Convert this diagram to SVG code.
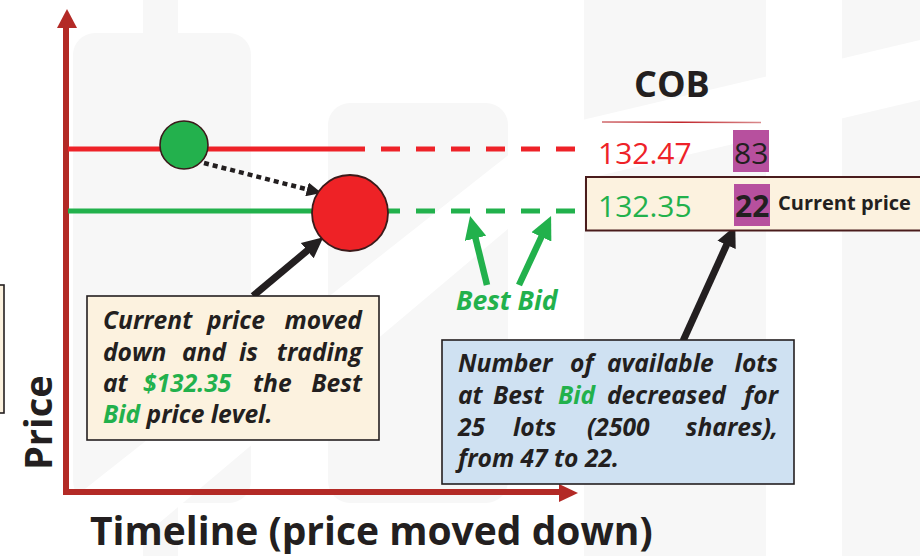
<svg xmlns="http://www.w3.org/2000/svg" width="920" height="556" viewBox="0 0 920 556">
<style>
.wm{fill:#f7f7f7}
.t{font-family:"Open Sans","Noto Sans","Liberation Sans",sans-serif}
.bi{font-weight:700;font-style:italic;font-size:24.6px;fill:#231f20}
.g{fill:#22b14c}
.box{stroke:#231f20;stroke-width:1.6}
.cream{fill:#fcf2df}
.ax{stroke:#b32a26;stroke-width:6;fill:none}
.axh{fill:#b32a26}
</style>
<defs>
<linearGradient id="ul" x1="0" x2="1" y1="0" y2="0">
<stop offset="0" stop-color="#d06a6d"/><stop offset="0.5" stop-color="#c1272d"/><stop offset="1" stop-color="#d98a8c"/>
</linearGradient>
<marker id="ab" markerUnits="userSpaceOnUse" markerWidth="22" markerHeight="22" viewBox="0 0 22 22" refX="1" refY="11" orient="auto"><path d="M0,1 L21,11 L0,21 z" fill="#231f20"/></marker>
<marker id="ag" markerUnits="userSpaceOnUse" markerWidth="24" markerHeight="22" viewBox="0 0 24 22" refX="1" refY="11" orient="auto"><path d="M0,0 L23,11 L0,22 z" fill="#22b14c"/></marker>
<marker id="ad" markerUnits="userSpaceOnUse" markerWidth="15" markerHeight="14" viewBox="0 0 15 14" refX="1" refY="7" orient="auto"><path d="M0,0 L15,7 L0,14 z" fill="#231f20"/></marker>
</defs>
<rect width="920" height="556" fill="#fff"/>
<g id="watermark">
<rect class="wm" x="143" y="0" width="35" height="556"/>
<rect class="wm" x="73" y="33" width="178" height="470" rx="22"/>
<rect class="wm" x="328" y="103" width="180" height="400" rx="22"/>
<rect class="wm" x="584" y="0" width="182" height="556"/>
<rect class="wm" x="842" y="0" width="78" height="556"/>
<polygon points="0,556 120,556 560,185 920,100 920,40 540,130" fill="#fff"/>
</g>
<g id="partial-box"><rect x="-10" y="285" width="14" height="128" class="box cream"/></g>
<g id="axes">
<line class="ax" x1="66" y1="495" x2="66" y2="26"/>
<polygon class="axh" points="67,9 57,28 77,28"/>
<line class="ax" x1="63" y1="492" x2="561" y2="492"/>
<polygon class="axh" points="578,493 559,484 559,502"/>
<text class="t" transform="translate(52,470) rotate(-90)" font-size="38" font-weight="700" fill="#231f20">Price</text>
<text class="t" x="90" y="545" font-size="39" font-weight="700" fill="#231f20">Timeline (price moved down)</text>
</g>
<g id="levels">
<line x1="68" y1="149" x2="346" y2="149" stroke="#ee2228" stroke-width="5"/>
<line x1="346" y1="149" x2="575" y2="149" stroke="#ee2228" stroke-width="5" stroke-dasharray="19 16"/>
<line x1="68" y1="211" x2="346" y2="211" stroke="#22b14c" stroke-width="5"/>
<line x1="346" y1="211" x2="575" y2="211" stroke="#22b14c" stroke-width="5" stroke-dasharray="19 16"/>
</g>
<g id="connectors">
<line x1="204" y1="163" x2="308" y2="189.6" stroke="#231f20" stroke-width="4.5" stroke-dasharray="5 4" marker-end="url(#ad)"/>
<line x1="253" y1="296" x2="308" y2="250" stroke="#231f20" stroke-width="7" marker-end="url(#ab)"/>
<line x1="683" y1="341" x2="727" y2="244" stroke="#231f20" stroke-width="7" marker-end="url(#ab)"/>
<line x1="487" y1="285" x2="475.3" y2="237.3" stroke="#22b14c" stroke-width="6.5" marker-end="url(#ag)"/>
<line x1="519" y1="285" x2="541.8" y2="236" stroke="#22b14c" stroke-width="6.5" marker-end="url(#ag)"/>
</g>
<g id="green-dot"><circle cx="184" cy="145" r="24" fill="#23b14d" stroke="#3b1a1a" stroke-width="1.6"/></g>
<g id="red-dot"><circle cx="350" cy="213" r="38" fill="#ee2226" stroke="#3b1a1a" stroke-width="1.8"/></g>
<g id="best-bid-label"><text class="t bi g" x="456" y="310" style="font-size:26.5px">Best Bid</text></g>
<g id="cob">
<text class="t" x="634" y="97" font-size="36" font-weight="700" fill="#231f20">COB</text>
<line x1="602" y1="122" x2="761" y2="122.5" stroke="url(#ul)" stroke-width="1.6"/>
<text class="t" x="598" y="164" font-size="30" fill="#ee2228">132.47</text>
<rect x="733" y="130" width="36" height="42" fill="#b7509e"/>
<text class="t" x="734" y="164" font-size="30" fill="#231f20">83</text>
</g>
<g id="current-row">
<rect x="586" y="177" width="340" height="53.5" fill="#fcf2df" stroke="#4a1c1c" stroke-width="2"/>
<text class="t" x="598" y="217" font-size="30" fill="#22b14c">132.35</text>
<rect x="734" y="184" width="36" height="42" fill="#b7509e"/>
<text class="t" x="735" y="217" font-size="30" font-weight="700" fill="#231f20">22</text>
<text class="t" x="778" y="210" font-size="20" font-weight="700" fill="#231f20">Current price</text>
</g>
<g id="callout-left">
<rect x="87" y="296" width="292" height="144" class="box cream"/>
<text class="t bi" x="103" y="329">Current<tspan x="207">price</tspan><tspan x="362" text-anchor="end">moved</tspan></text>
<text class="t bi" x="103" y="361">down<tspan x="182">and</tspan><tspan x="239">is</tspan><tspan x="362" text-anchor="end">trading</tspan></text>
<text class="t bi" x="103" y="392">at<tspan x="143" class="g">$132.35</tspan><tspan x="253">the</tspan><tspan x="362" text-anchor="end">Best</tspan></text>
<text class="t bi" x="103" y="423"><tspan class="g">Bid</tspan> price level.</text>
</g>
<g id="callout-right">
<rect x="442" y="340" width="352" height="144" fill="#cfe1f2" class="box"/>
<text class="t bi" x="458" y="372">Number<tspan x="570">of</tspan><tspan x="607">available</tspan><tspan x="778" text-anchor="end">lots</tspan></text>
<text class="t bi" x="458" y="404">at<tspan x="493">Best</tspan><tspan x="558" class="g">Bid</tspan><tspan x="607">decreased</tspan><tspan x="778" text-anchor="end">for</tspan></text>
<text class="t bi" x="458" y="436">25<tspan x="513">lots</tspan><tspan x="587">(2500</tspan><tspan x="778" text-anchor="end">shares),</tspan></text>
<text class="t bi" x="458" y="467">from 47 to 22.</text>
</g>
</svg>
